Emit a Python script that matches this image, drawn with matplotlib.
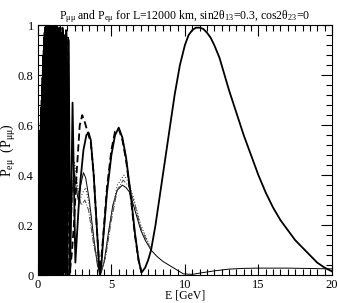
import matplotlib
matplotlib.use("Agg")
import matplotlib.pyplot as plt
from matplotlib.ticker import MultipleLocator, FuncFormatter

plt.rcParams['font.family'] = ['Liberation Serif', 'DejaVu Serif']
plt.rcParams['mathtext.fontset'] = 'custom'
plt.rcParams['mathtext.rm'] = 'Liberation Serif'

# P_mumu, first variant (thick solid); low energy part read as peaks/troughs
E_mm = [0.01, 0.02, 0.03, 0.04, 0.05, 0.06, 0.07, 0.08, 0.09, 0.10,
        0.11, 0.12, 0.13, 0.14, 0.15, 0.16, 0.17, 0.18, 0.19, 0.20,
        0.21, 0.22, 0.23, 0.24, 0.25, 0.26, 0.27, 0.28, 0.29, 0.30,
        0.31, 0.32, 0.33, 0.34, 0.35, 0.36, 0.37, 0.38, 0.39, 0.40,
        0.41, 0.42, 0.43, 0.44, 0.45, 0.46, 0.47, 0.48, 0.49, 0.50,
        0.52, 0.54, 0.56, 0.58, 0.60, 0.62, 0.64, 0.66, 0.68, 0.70,
        0.72, 0.74, 0.76, 0.78, 0.80, 0.82, 0.84, 0.86, 0.88, 0.90,
        0.92, 0.94, 0.96, 0.98, 1.00, 1.03, 1.06, 1.09, 1.12, 1.15,
        1.18, 1.21, 1.24, 1.27, 1.30, 1.34, 1.38, 1.42, 1.46, 1.50,
        1.55, 1.60, 1.65, 1.70, 1.76, 1.82, 1.88, 1.95, 2.02, 2.10,
        2.20, 2.36, 2.55, 2.75, 2.90, 3.10, 3.30, 3.45, 3.60, 3.80,
        4.00, 4.12, 4.22, 4.32, 4.45, 4.70, 5.00, 5.25, 5.50, 5.75,
        6.00, 6.30, 6.60, 6.85, 7.05, 7.30, 7.50, 7.70, 8.00, 8.25,
        8.50, 8.75, 9.00, 9.30, 9.66, 10.0, 10.25, 10.5, 10.75, 11.0,
        11.25, 11.5, 11.75, 12.0, 12.35, 12.7, 13.0, 13.5, 14.0, 14.5,
        15.0, 15.5, 16.0, 16.5, 17.0, 17.5, 18.0, 18.5, 19.0, 19.5,
        20.0]
P_mm = [0.00, 0.38, 0.01, 0.40, 0.00, 0.42, 0.02, 0.45, 0.00, 0.48,
        0.01, 0.50, 0.00, 0.53, 0.03, 0.55, 0.00, 0.58, 0.01, 0.61,
        0.00, 0.64, 0.02, 0.67, 0.00, 0.70, 0.01, 0.73, 0.00, 0.76,
        0.03, 0.79, 0.00, 0.82, 0.01, 0.85, 0.00, 0.88, 0.02, 0.90,
        0.00, 0.93, 0.01, 0.95, 0.00, 0.97, 0.03, 0.98, 0.00, 0.99,
        0.01, 1.00, 0.00, 0.99, 0.02, 1.00, 0.00, 0.98, 0.01, 1.00,
        0.00, 0.99, 0.04, 1.00, 0.00, 0.98, 0.02, 1.00, 0.00, 0.99,
        0.01, 1.00, 0.00, 0.98, 0.03, 1.00, 0.00, 0.99, 0.01, 0.97,
        0.00, 1.00, 0.02, 0.98, 0.00, 0.99, 0.01, 0.97, 0.00, 0.98,
        0.02, 0.96, 0.00, 0.98, 0.01, 0.95, 0.00, 0.97, 0.00, 0.94,
        0.01, 0.69, 0.05, 0.25, 0.38, 0.50, 0.56, 0.57, 0.54, 0.40,
        0.20, 0.08, 0.00, 0.04, 0.15, 0.33, 0.48, 0.56, 0.59, 0.55,
        0.47, 0.33, 0.17, 0.06, 0.01, 0.03, 0.06, 0.10, 0.20, 0.30,
        0.40, 0.50, 0.60, 0.72, 0.84, 0.92, 0.96, 0.98, 0.99, 0.99,
        0.985, 0.97, 0.95, 0.92, 0.87, 0.80, 0.74, 0.65, 0.56, 0.48,
        0.40, 0.33, 0.27, 0.22, 0.18, 0.14, 0.11, 0.08, 0.05, 0.03,
        0.015]

# P_mumu, second variant (thick dashed)
E_mm2 = [0.91, 0.95, 0.99, 1.045, 1.075, 1.105, 1.135, 1.165, 1.195, 1.225,
         1.255, 1.285, 1.32, 1.36, 1.40, 1.44, 1.48, 1.525, 1.575, 1.625,
         1.675, 1.73, 1.79, 1.85, 1.915, 1.985, 2.06, 2.14,
         2.30, 2.45, 2.65, 2.85, 3.02, 3.20, 3.45, 3.60, 3.80,
         4.00, 4.22, 4.45, 4.70, 5.00, 5.25, 5.50, 5.75, 6.00, 6.30,
         6.60, 6.85, 7.05]
P_mm2 = [0.99, 0.01, 1.00, 0.00, 0.98, 0.02, 1.00, 0.00, 0.99, 0.00,
         0.97, 0.01, 1.00, 0.00, 0.98, 0.02, 0.99, 0.00, 0.97, 0.01,
         0.99, 0.00, 0.96, 0.02, 0.98, 0.00, 0.95, 0.00,
         0.08, 0.20, 0.42, 0.60, 0.64, 0.61, 0.56, 0.53, 0.40,
         0.20, 0.00, 0.16, 0.35, 0.50, 0.575, 0.585, 0.54, 0.46, 0.32,
         0.16, 0.06, 0.01]

# P_emu, first variant (thin solid)
E_em = [0.05, 0.10, 0.15, 0.20, 0.30, 0.40, 0.50, 0.60, 0.75, 0.90,
        1.05, 1.25, 1.45, 1.70, 1.95, 2.10, 2.30, 2.45, 2.60, 2.75,
        2.95, 3.10, 3.25, 3.50, 3.80, 4.05, 4.25, 4.50, 4.80, 5.10,
        5.40, 5.75, 6.00, 6.26, 6.60, 7.00, 7.30, 7.70, 8.10, 8.50,
        9.20, 9.90, 10.5, 11.0, 12.0, 13.0, 14.0, 15.0, 16.0, 17.0,
        18.0, 19.0, 20.0]
P_em = [0.00, 0.30, 0.02, 0.40, 0.00, 0.45, 0.03, 0.42, 0.00, 0.44,
        0.02, 0.40, 0.00, 0.43, 0.01, 0.00, 0.30, 0.42, 0.35, 0.30,
        0.37, 0.41, 0.39, 0.30, 0.15, 0.04, 0.00, 0.05, 0.17, 0.28,
        0.34, 0.36, 0.35, 0.33, 0.26, 0.18, 0.14, 0.10, 0.075, 0.055,
        0.03, 0.005, 0.003, 0.008, 0.017, 0.024, 0.027, 0.028, 0.028, 0.028,
        0.027, 0.026, 0.025]

# P_emu, second variant (dotted)
E_em2 = [2.10, 2.35, 2.50, 2.65, 2.85, 3.05, 3.25, 3.50, 3.80, 4.25,
         4.60, 5.00, 5.40, 5.85, 6.20, 6.60, 7.00, 7.70]
P_em2 = [0.00, 0.35, 0.45, 0.38, 0.30, 0.33, 0.35, 0.28, 0.14, 0.00,
         0.08, 0.24, 0.36, 0.40, 0.37, 0.29, 0.20, 0.105]

# P_emu, third variant (dash-dot)
E_em3 = [2.10, 2.35, 2.55, 2.75, 2.95, 3.20, 3.45, 3.80, 4.25, 4.60,
         5.00, 5.40, 5.80, 6.20, 6.60, 7.00, 7.70]
P_em3 = [0.00, 0.30, 0.40, 0.33, 0.28, 0.30, 0.26, 0.12, 0.00, 0.07,
         0.22, 0.34, 0.38, 0.355, 0.28, 0.19, 0.10]

fig = plt.figure(figsize=(3.38, 3.03), dpi=100)
ax = fig.add_axes([0.112, 0.092, 0.870, 0.825])

ax.plot(E_em, P_em, color='black', lw=0.7)
ax.plot(E_em2, P_em2, color='#444444', lw=0.8, ls=':')
ax.plot(E_em3, P_em3, color='#444444', lw=0.7, ls='-.')
ax.plot(E_mm2, P_mm2, color='black', lw=1.3, ls=(0, (4, 2)))
ax.plot(E_mm, P_mm, color='black', lw=1.3)

ax.set_xlim(0, 20)
ax.set_ylim(0, 1)
ax.xaxis.set_major_locator(MultipleLocator(5))
ax.xaxis.set_minor_locator(MultipleLocator(0.5))
ax.yaxis.set_major_locator(MultipleLocator(0.2))
ax.yaxis.set_minor_locator(MultipleLocator(0.04))
fmt = FuncFormatter(lambda v, p: ('%g' % round(v, 2)))
ax.xaxis.set_major_formatter(fmt)
ax.yaxis.set_major_formatter(fmt)
ax.tick_params(which='both', direction='in', top=True, right=True,
               labelsize=9, width=0.8, pad=3)
ax.tick_params(which='major', length=8)
ax.tick_params(which='minor', length=4)
for s in ax.spines.values():
    s.set_linewidth(0.8)

ax.set_title(r'P$\mathregular{_{μμ}}$ and P$\mathregular{_{eμ}}$ for L=12000 km, '
             r'sin2θ$\mathregular{_{13}}$=0.3, cos2θ$\mathregular{_{23}}$=0',
             fontsize=8.5, pad=4)
ax.set_xlabel('E [GeV]', fontsize=8.5, labelpad=-1)
ax.set_ylabel(r'P$\mathregular{_{eμ}}$  (P$\mathregular{_{μμ}}$)', fontsize=10, labelpad=0)

plt.savefig('out.png', dpi=100)
